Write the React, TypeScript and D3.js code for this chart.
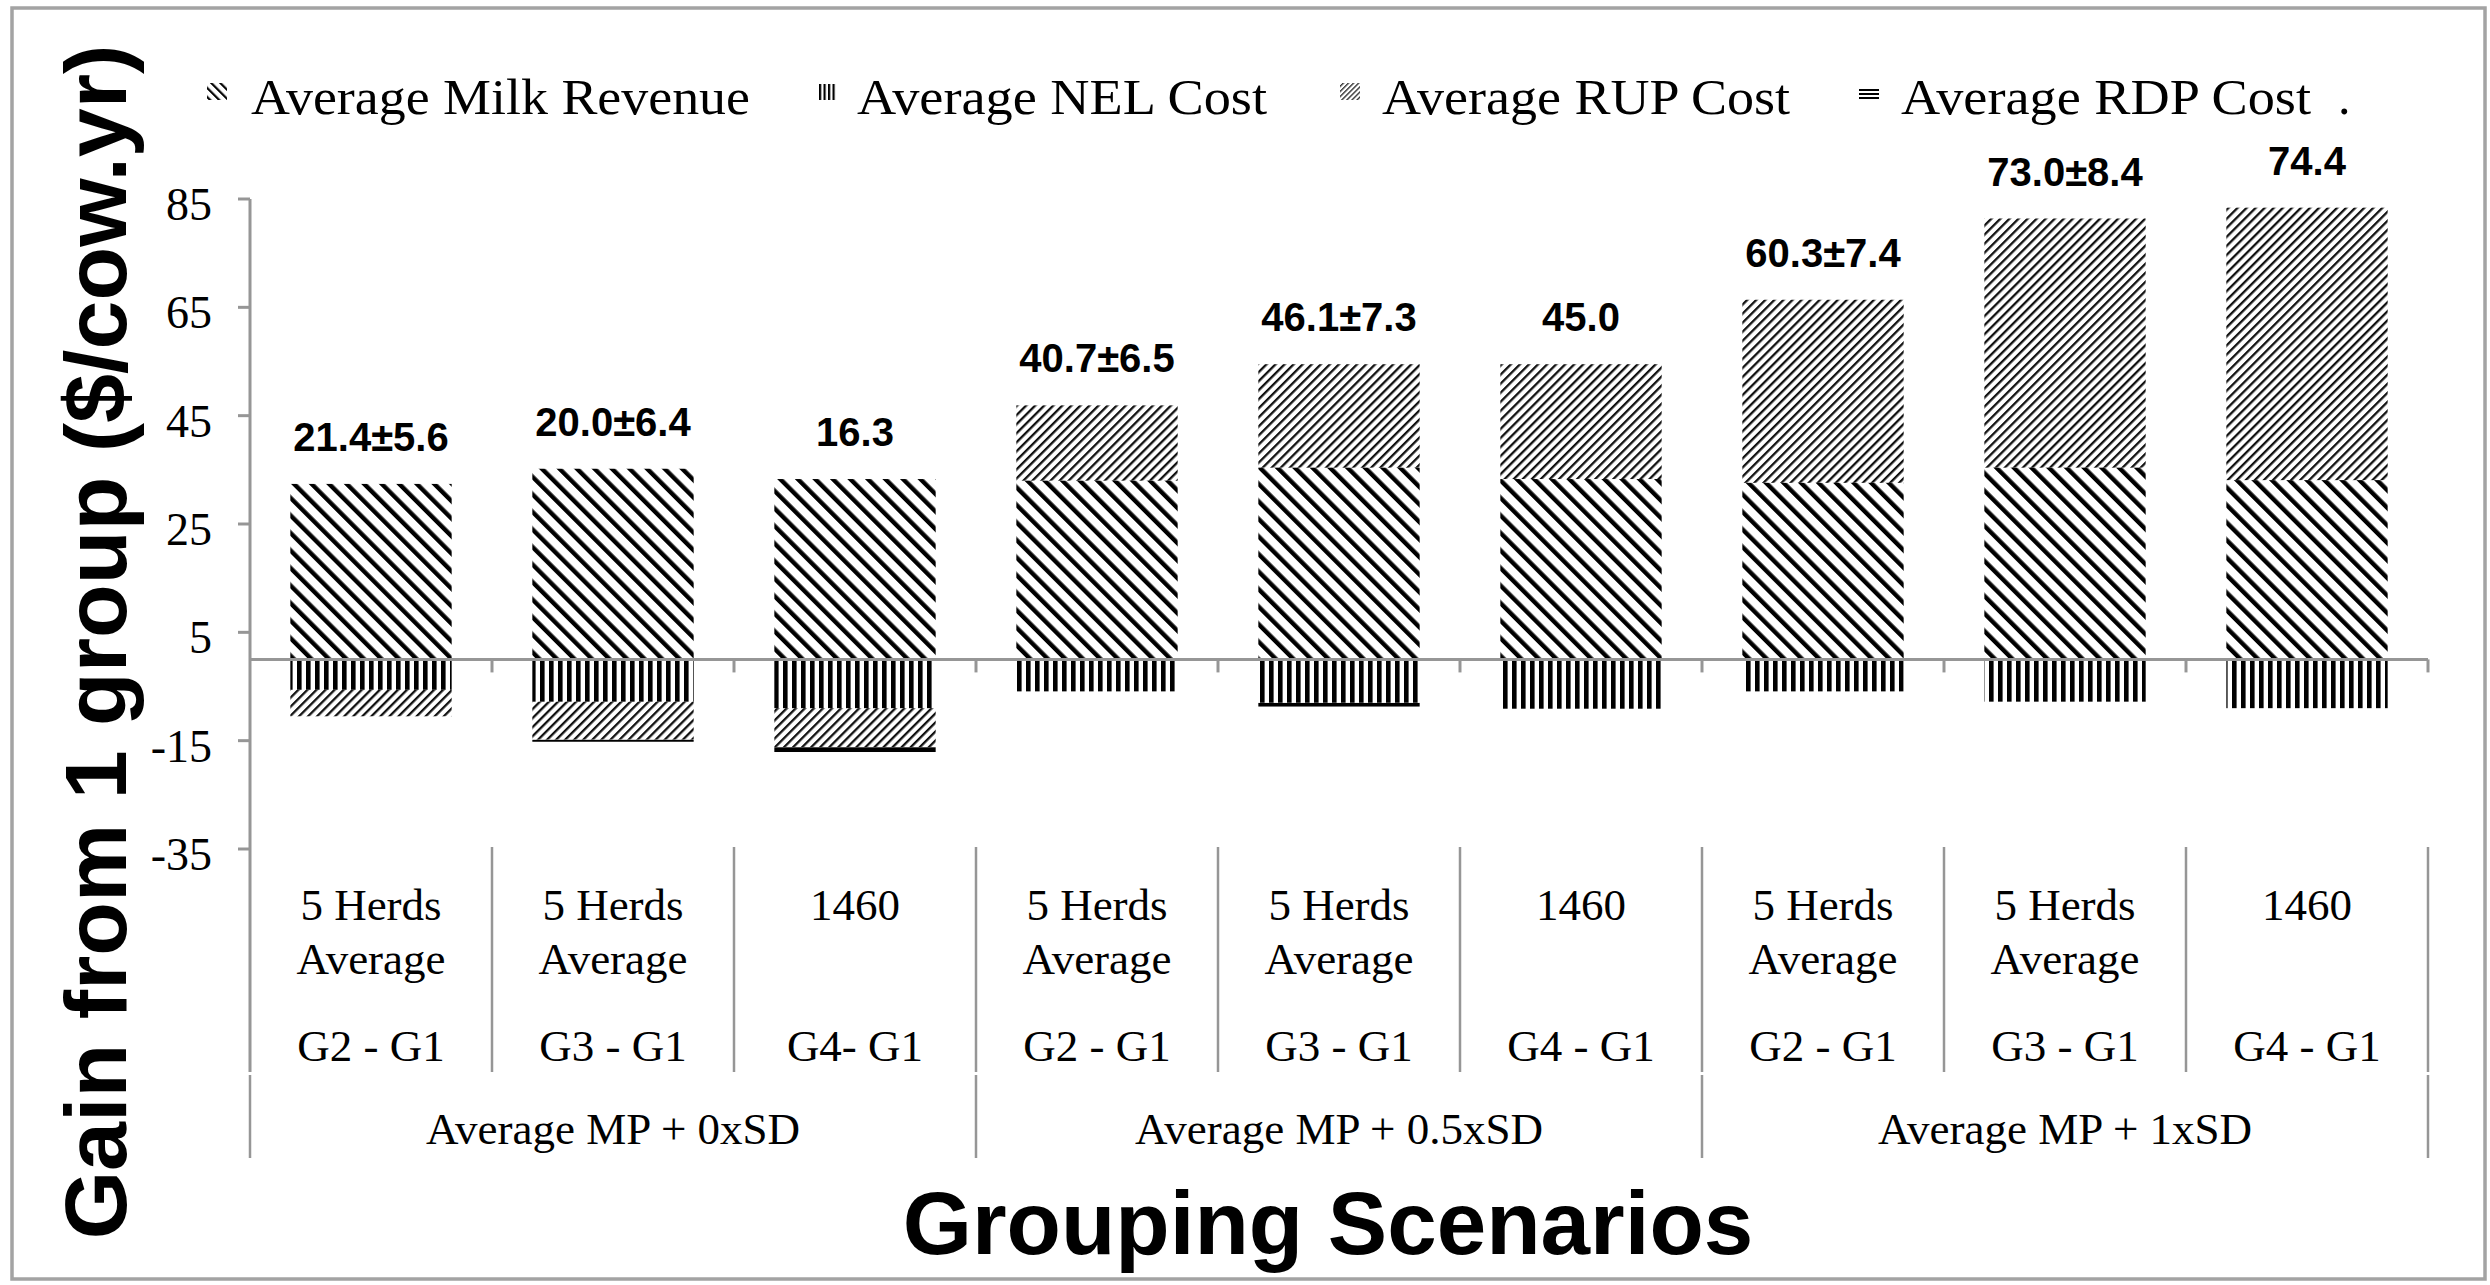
import React from "react";
import * as d3 from "d3";

// ---------- data ----------
const catLine1 = ["5 Herds", "5 Herds", "1460", "5 Herds", "5 Herds", "1460", "5 Herds", "5 Herds", "1460"];
const catLine2 = ["Average", "Average", "", "Average", "Average", "", "Average", "Average", ""];
const catLine3 = ["G2 - G1", "G3 - G1", "G4- G1", "G2 - G1", "G3 - G1", "G4 - G1", "G2 - G1", "G3 - G1", "G4 - G1"];
const groups = ["Average MP + 0xSD", "Average MP + 0.5xSD", "Average MP + 1xSD"];

const milkRevenue = [32.4, 35.2, 33.3, 33.0, 35.4, 33.3, 32.6, 35.4, 33.1];
const nelCost = [-5.6, -7.8, -9.0, -5.9, -8.0, -9.1, -5.9, -7.8, -9.0];
const rupCost = [-4.9, -7.0, -7.2, 13.9, 19.1, 21.2, 33.8, 46.0, 50.3];
const rdpCost = [0, -0.4, -0.9, 0, -0.7, 0, 0, 0, 0];
const totalLabels = ["21.4±5.6", "20.0±6.4", "16.3", "40.7±6.5", "46.1±7.3", "45.0", "60.3±7.4", "73.0±8.4", "74.4"];

const yTicks = [85, 65, 45, 25, 5, -15, -35];
const seriesNames = ["Average Milk Revenue", "Average NEL Cost", "Average RUP Cost", "Average RDP Cost"];

// ---------- layout ----------
const W = 2490;
const H = 1285;
const AX = "#969696";
const SERIF = "'Liberation Serif', 'Times New Roman', serif";
const SANS = "'Liberation Sans', Arial, sans-serif";
const LEGEND_Y = 114;
const legendLayout = [
  { sx: 207, sw: 20, sy: 83, sh: 17, tx: 251, tw: 499, pat: "lMilk" },
  { sx: 818, sw: 18, sy: 84, sh: 16, tx: 857, tw: 410, pat: "lNel" },
  { sx: 1340, sw: 20, sy: 83, sh: 17, tx: 1382, tw: 408, pat: "lRup" },
  { sx: 1859, sw: 20, sy: 89, sh: 10, tx: 1901, tw: 410, pat: "lRdp" },
];

export default function App() {
  const n = catLine1.length;
  const idx = d3.range(n);
  const x = d3.scaleBand<number>().domain(idx).range([250, 2428]).paddingInner(1 / 3).paddingOuter(1 / 6);
  const y = d3.scaleLinear().domain([-35, 85]).range([849, 199]);
  const step = x.step();
  const x0 = 250;
  const bx = (i: number) => x0 + i * step;

  const rows = idx.map((i) => ({ milk: milkRevenue[i], nel: nelCost[i], rup: rupCost[i], rdp: rdpCost[i] }));
  const keys = ["milk", "nel", "rup", "rdp"];
  const stack = d3.stack<any>().keys(keys).offset(d3.stackOffsetDiverging)(rows);
  const fills: Record<string, string> = { milk: "url(#pMilk)", nel: "url(#pNel)", rup: "url(#pRup)" };

  const tops = idx.map((i) => d3.max(stack, (s) => Math.max(s[i][0], s[i][1])) as number);

  const lowerTop = 847;
  const lowerBot = 1072;
  const groupTop = 1075;
  const groupBot = 1158;

  return (
    <div style={{ position: "absolute", left: 0, top: 0 }}>
      <svg width={W} height={H} style={{ display: "block" }}>
        <defs>
          <pattern id="pMilk" patternUnits="userSpaceOnUse" width={12.4} height={12.4} patternTransform="rotate(-45)">
            <rect x={0} y={0} width={4.4} height={12.4} fill="#000" />
          </pattern>
          <pattern id="pNel" patternUnits="userSpaceOnUse" width={9} height={9}>
            <rect x={0} y={0} width={4.6} height={9} fill="#000" />
          </pattern>
          <pattern id="pRup" patternUnits="userSpaceOnUse" width={6.4} height={6.4} patternTransform="rotate(45)">
            <rect x={0} y={0} width={2.3} height={6.4} fill="#111" />
          </pattern>
          <pattern id="lMilk" patternUnits="userSpaceOnUse" width={6.4} height={6.4} patternTransform="rotate(-45)">
            <rect x={0} y={0} width={2.2} height={6.4} fill="#000" />
          </pattern>
          <pattern id="lNel" patternUnits="userSpaceOnUse" width={4.5} height={4.5}>
            <rect x={0} y={0} width={2.2} height={4.5} fill="#000" />
          </pattern>
          <pattern id="lRup" patternUnits="userSpaceOnUse" width={3.6} height={3.6} patternTransform="rotate(45)">
            <rect x={0} y={0} width={1.3} height={3.6} fill="#222" />
          </pattern>
          <pattern id="lRdp" patternUnits="userSpaceOnUse" width={4} height={4} y={89}>
            <rect x={0} y={0} width={4} height={2} fill="#000" />
          </pattern>
          {stack[3].map((d, i) => (
            <pattern key={i} id={`pRdp${i}`} patternUnits="userSpaceOnUse" width={9} height={9} y={y(Math.max(d[0], d[1]))}>
              <rect x={0} y={0} width={9} height={5} fill="#000" />
            </pattern>
          ))}
        </defs>

        {/* frame */}
        <rect x={12} y={8} width={2473} height={1271} fill="#fff" stroke="#a3a3a3" strokeWidth={3.5} />

        {/* bars */}
        {stack.map((s, si) =>
          s.map((d, i) => {
            const top = y(Math.max(d[0], d[1]));
            const bot = y(Math.min(d[0], d[1]));
            if (bot - top < 0.2) return null;
            return (
              <rect
                key={`${si}-${i}`}
                x={x(i)}
                y={top}
                width={x.bandwidth()}
                height={bot - top}
                fill={keys[si] === "rdp" ? `url(#pRdp${i})` : fills[keys[si]]}
              />
            );
          })
        )}

        {/* y axis */}
        <line x1={x0} x2={x0} y1={y(85)} y2={lowerBot} stroke={AX} strokeWidth={3} />
        {yTicks.map((t) => (
          <g key={t}>
            <line x1={238} x2={x0} y1={y(t)} y2={y(t)} stroke={AX} strokeWidth={3} />
            <text x={212} y={y(t) + 21} textAnchor="end" fontFamily={SERIF} fontSize={46} fill="#000">
              {t}
            </text>
          </g>
        ))}

        {/* zero axis */}
        <line x1={x0} x2={bx(n)} y1={y(0)} y2={y(0)} stroke={AX} strokeWidth={3} />
        {d3.range(1, n + 1).map((i) => (
          <line key={i} x1={bx(i)} x2={bx(i)} y1={y(0)} y2={y(0) + 13} stroke={AX} strokeWidth={3} />
        ))}

        {/* multi-level category axis */}
        {d3.range(1, n + 1).map((i) => (
          <line key={`lt${i}`} x1={bx(i)} x2={bx(i)} y1={lowerTop} y2={lowerBot} stroke={AX} strokeWidth={2.5} />
        ))}
        {d3.range(0, n + 1, 3).map((i) => (
          <line key={`gt${i}`} x1={bx(i)} x2={bx(i)} y1={groupTop} y2={groupBot} stroke={AX} strokeWidth={2.5} />
        ))}
        {idx.map((i) => {
          const cx = bx(i) + step / 2;
          return (
            <g key={`cl${i}`} fontFamily={SERIF} fontSize={45} fill="#000" textAnchor="middle">
              <text x={cx} y={920}>{catLine1[i]}</text>
              {catLine2[i] && <text x={cx} y={974}>{catLine2[i]}</text>}
              <text x={cx} y={1061}>{catLine3[i]}</text>
            </g>
          );
        })}
        {groups.map((g, gi) => (
          <text key={g} x={bx(gi * 3) + step * 1.5} y={1144} textAnchor="middle" fontFamily={SERIF} fontSize={45} fill="#000">
            {g}
          </text>
        ))}

        {/* total labels */}
        {idx.map((i) => (
          <text
            key={`tl${i}`}
            x={x(i)! + x.bandwidth() / 2}
            y={y(tops[i]) - 33}
            textAnchor="middle"
            fontFamily={SANS}
            fontWeight="bold"
            fontSize={40}
            fill="#000"
          >
            {totalLabels[i]}
          </text>
        ))}

        {/* legend */}
        {legendLayout.map((l, k) => (
          <g key={k}>
            <rect x={l.sx} y={l.sy} width={l.sw} height={l.sh} fill={`url(#${l.pat})`} />
            <text x={l.tx} y={LEGEND_Y} fontFamily={SERIF} fontSize={50} textLength={l.tw} lengthAdjust="spacingAndGlyphs" fill="#000">
              {seriesNames[k]}
            </text>
          </g>
        ))}
        <text x={2338} y={LEGEND_Y} fontFamily={SERIF} fontSize={50} fill="#000">.</text>

        {/* axis titles */}
        <text
          transform={`translate(126, 642) rotate(-90)`}
          textAnchor="middle"
          fontFamily={SANS}
          fontWeight="bold"
          fontSize={88}
          fill="#000"
        >
          Gain from 1 group ($/cow.yr)
        </text>
        <text x={1328} y={1254} textAnchor="middle" fontFamily={SANS} fontWeight="bold" fontSize={89} fill="#000">
          Grouping Scenarios
        </text>
      </svg>
    </div>
  );
}
